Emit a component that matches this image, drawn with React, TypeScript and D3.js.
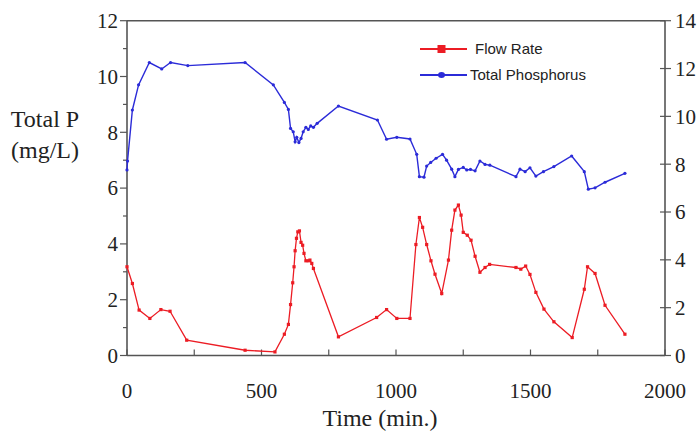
import React from "react";
import * as d3 from "d3";

// Total Phosphorus (mg/L, left axis)
const tpTime = [0, 2, 20, 43, 83, 129, 162, 226, 439, 544, 585, 600, 608, 618, 625, 631, 639, 647, 655, 665, 674, 683, 693, 707, 786, 931, 965, 1003, 1052, 1077, 1087, 1104, 1114, 1129, 1149, 1173, 1188, 1207, 1219, 1232, 1250, 1263, 1277, 1294, 1312, 1331, 1349, 1446, 1461, 1480, 1498, 1520, 1548, 1587, 1653, 1700, 1715, 1740, 1777, 1851];
const tpValue = [6.65, 6.97, 8.8, 9.7, 10.5, 10.27, 10.5, 10.39, 10.5, 9.7, 9.07, 8.82, 8.14, 8.02, 7.66, 7.82, 7.63, 7.78, 8.02, 8.18, 8.1, 8.23, 8.18, 8.32, 8.94, 8.44, 7.75, 7.82, 7.76, 7.21, 6.41, 6.39, 6.79, 6.92, 7.07, 7.21, 7.0, 6.68, 6.41, 6.67, 6.74, 6.65, 6.67, 6.62, 6.97, 6.85, 6.82, 6.41, 6.68, 6.59, 6.73, 6.43, 6.59, 6.77, 7.15, 6.59, 5.96, 6.01, 6.21, 6.53];

// Flow Rate (right axis)
const frTime = [0, 20, 45, 85, 126, 160, 222, 439, 550, 585, 600, 608, 616, 621, 625, 630, 635, 641, 647, 653, 658, 665, 674, 680, 687, 693, 786, 928, 965, 1003, 1052, 1074, 1087, 1099, 1114, 1130, 1145, 1170, 1195, 1207, 1219, 1232, 1242, 1250, 1265, 1279, 1294, 1312, 1331, 1348, 1446, 1464, 1482, 1498, 1520, 1550, 1587, 1655, 1700, 1712, 1740, 1777, 1851];
const frValue = [3.71, 3.01, 1.9, 1.55, 1.92, 1.85, 0.64, 0.22, 0.15, 0.89, 1.3, 2.13, 3.04, 3.71, 4.38, 4.9, 5.17, 5.21, 4.73, 4.61, 4.27, 3.96, 3.96, 3.99, 3.85, 3.64, 0.78, 1.59, 1.92, 1.55, 1.55, 4.64, 5.77, 5.36, 4.64, 3.96, 3.4, 2.59, 3.99, 5.24, 6.08, 6.29, 5.87, 5.15, 5.03, 4.82, 4.15, 3.48, 3.68, 3.81, 3.68, 3.61, 3.74, 3.39, 2.64, 1.94, 1.41, 0.75, 2.77, 3.71, 3.43, 2.1, 0.89];

const xTicks = [0, 500, 1000, 1500, 2000];
const xMinorTicks = [250, 750, 1250, 1750];
const leftTicks = [0, 2, 4, 6, 8, 10, 12];
const leftMinorTicks = [1, 3, 5, 7, 9, 11];
const rightTicks = [0, 2, 4, 6, 8, 10, 12, 14];

const seriesNames = ["Flow Rate", "Total Phosphorus"];
const RED = "#ec1c24";
const BLUE = "#2b2bd8";
const AXIS = "#555";
const SERIF = "'Liberation Serif', 'Times New Roman', serif";
const SANS = "'Liberation Sans', Arial, sans-serif";

export default function App() {
  const left = 127, right = 665, top = 20.7, bottom = 355.5;
  const x = d3.scaleLinear().domain([0, 2000]).range([left, right]);
  const yL = d3.scaleLinear().domain([0, 12]).range([bottom, top]);
  const yR = d3.scaleLinear().domain([0, 14]).range([bottom, top]);

  const tp = tpTime.map((t, i) => [t, tpValue[i]] as [number, number]);
  const fr = frTime.map((t, i) => [t, frValue[i]] as [number, number]);
  const tpLine = d3.line<[number, number]>().x(d => x(d[0])).y(d => yL(d[1]));
  const frLine = d3.line<[number, number]>().x(d => x(d[0])).y(d => yR(d[1]));

  return (
    <svg width={700} height={433} style={{ position: "absolute", left: 0, top: 0, background: "#fff" }}>
      <rect x={0} y={0} width={700} height={433} fill="#fff" />
      {/* frame */}
      <line x1={left} x2={right} y1={top} y2={top} stroke={AXIS} strokeWidth={1.6} />
      <line x1={left} x2={right} y1={bottom} y2={bottom} stroke={AXIS} strokeWidth={1.6} />
      <line x1={left} x2={left} y1={top} y2={bottom} stroke={AXIS} strokeWidth={1.6} />
      <line x1={right} x2={right} y1={top} y2={bottom} stroke={AXIS} strokeWidth={1.6} />

      {/* left ticks */}
      {leftTicks.map(v => (
        <g key={"l" + v}>
          <line x1={left - 7} x2={left} y1={yL(v)} y2={yL(v)} stroke={AXIS} strokeWidth={1.2} />
          <text x={118} y={yL(v)} dy="0.35em" textAnchor="end" fontFamily={SERIF} fontSize={21} fill="#222">{v}</text>
        </g>
      ))}
      {leftMinorTicks.map(v => (
        <line key={"lm" + v} x1={left - 4} x2={left} y1={yL(v)} y2={yL(v)} stroke={AXIS} strokeWidth={1.2} />
      ))}
      {/* right ticks */}
      {rightTicks.map(v => (
        <g key={"r" + v}>
          <line x1={right - 5} x2={right + 6} y1={yR(v)} y2={yR(v)} stroke={AXIS} strokeWidth={1.2} />
          <text x={675} y={yR(v)} dy="0.35em" textAnchor="start" fontFamily={SERIF} fontSize={21} fill="#222">{v}</text>
        </g>
      ))}
      {/* x ticks */}
      {xTicks.map(v => (
        <g key={"x" + v}>
          <line x1={x(v)} x2={x(v)} y1={bottom - 6} y2={bottom} stroke={AXIS} strokeWidth={1.2} />
          <text x={x(v)} y={391} dy="0.35em" textAnchor="middle" fontFamily={SERIF} fontSize={21} fill="#222">{v}</text>
        </g>
      ))}
      {xMinorTicks.map(v => (
        <line key={"xm" + v} x1={x(v)} x2={x(v)} y1={bottom - 6} y2={bottom} stroke={AXIS} strokeWidth={1.2} />
      ))}

      {/* axis titles */}
      <text x={45} y={119} dy="0.35em" textAnchor="middle" fontFamily={SERIF} fontSize={24} fill="#222">Total P</text>
      <text x={45} y={150} dy="0.35em" textAnchor="middle" fontFamily={SERIF} fontSize={24} fill="#222">(mg/L)</text>
      <text x={380} y={418} dy="0.35em" textAnchor="middle" fontFamily={SERIF} fontSize={24} fill="#222">Time (min.)</text>

      {/* series */}
      <path d={frLine(fr) || ""} fill="none" stroke={RED} strokeWidth={1.3} />
      {fr.map((d, i) => (
        <rect key={"fr" + i} x={x(d[0]) - 1.6} y={yR(d[1]) - 1.6} width={3.2} height={3.2} fill={RED} />
      ))}
      <path d={tpLine(tp) || ""} fill="none" stroke={BLUE} strokeWidth={1.4} />
      {tp.map((d, i) => (
        <circle key={"tp" + i} cx={x(d[0])} cy={yL(d[1])} r={1.6} fill={BLUE} />
      ))}

      {/* legend */}
      <line x1={420} x2={467} y1={49} y2={49} stroke={RED} strokeWidth={2} />
      <rect x={437.5} y={45} width={8} height={8} fill={RED} />
      <text x={475} y={49} dy="0.35em" fontFamily={SANS} fontSize={15} fill="#222">{seriesNames[0]}</text>
      <line x1={420} x2={467} y1={75} y2={75} stroke={BLUE} strokeWidth={2} />
      <ellipse cx={441.5} cy={75} rx={3.5} ry={3} fill={BLUE} />
      <text x={470} y={75} dy="0.35em" fontFamily={SANS} fontSize={15} fill="#222">{seriesNames[1]}</text>
    </svg>
  );
}
